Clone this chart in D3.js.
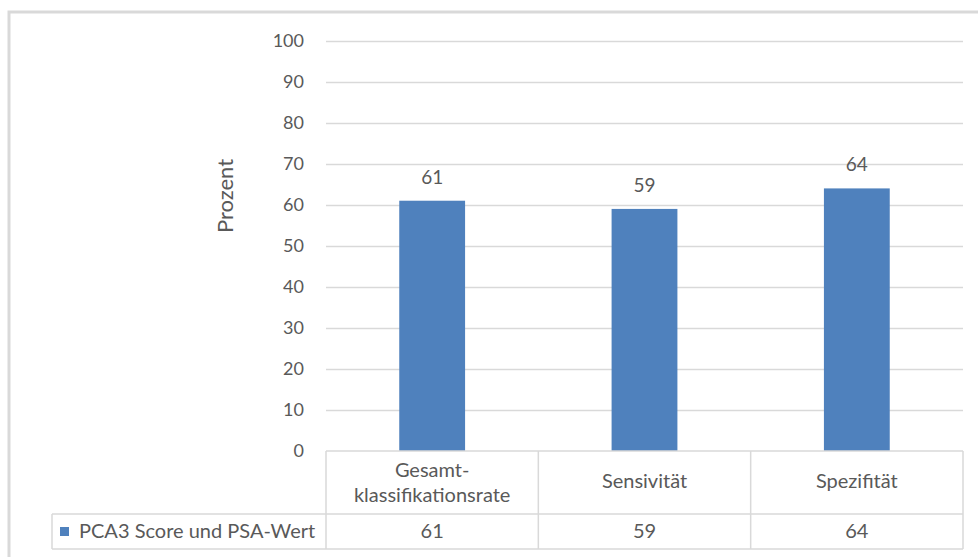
<!DOCTYPE html>
<html>
<head>
<meta charset="utf-8">
<script src="https://cdn.jsdelivr.net/npm/d3@7"></script>
<style>
  html, body { margin: 0; padding: 0; background: #fff; }
  svg { display: block; }
</style>
</head>
<body>
<svg id="chart" width="978" height="557"></svg>
<script>
// Kennwerte der Kombination aus PCA3 Score und PSA-Wert
const categories = [["Gesamt-", "klassifikationsrate"], ["Sensivität"], ["Spezifität"]];
const seriesName = "PCA3 Score und PSA-Wert";
const values = [61, 59, 64];
const yTicks = [0, 10, 20, 30, 40, 50, 60, 70, 80, 90, 100];
const yTitle = "Prozent";

(function draw() {
  const FONT = "Lato, 'Open Sans', sans-serif";
  const TEXT = "#595959";
  const LINE = "#d9d9d9";
  const BAR = "#4f81bd";

  const svg = d3.select("#chart");

  // Rahmen des Diagrammbereichs
  svg.append("rect")
    .attr("x", 9).attr("y", 12)
    .attr("width", 1000).attr("height", 600)
    .attr("fill", "#fff")
    .attr("stroke", LINE).attr("stroke-width", 3);

  const plotLeft = 326, plotRight = 963, plotTop = 40.7, base = 451;
  const rowMid = 514, rowBottom = 549, legendLeft = 52;

  const keys = categories.map((c, i) => i);
  const x = d3.scaleBand().domain(keys).range([plotLeft, plotRight])
    .paddingInner(0.69).paddingOuter(0.345);
  const y = d3.scaleLinear().domain([0, 100]).range([base, plotTop]);

  // Gitterlinien und Achsenbeschriftung
  const yAxis = d3.axisLeft(y).tickValues(yTicks).tickSize(0).tickPadding(22);
  const gy = svg.append("g").attr("transform", `translate(${plotLeft},0)`).call(yAxis);
  gy.select(".domain").remove();
  gy.selectAll("text").attr("fill", TEXT).style("font-family", FONT).style("font-size", "18px");

  svg.append("g").selectAll("line").data(yTicks.filter(t => t > 0)).join("line")
    .attr("x1", plotLeft).attr("x2", plotRight)
    .attr("y1", d => Math.round(y(d)) + 0.5).attr("y2", d => Math.round(y(d)) + 0.5)
    .attr("stroke", LINE).attr("stroke-width", 1.5);

  // Balken
  svg.append("g").selectAll("rect").data(values).join("rect")
    .attr("x", (d, i) => x(i))
    .attr("width", x.bandwidth())
    .attr("y", d => y(d))
    .attr("height", d => y(0) - y(d))
    .attr("fill", BAR);

  // Datenbeschriftungen
  svg.append("g").selectAll("text").data(values).join("text")
    .attr("x", (d, i) => x(i) + x.bandwidth() / 2)
    .attr("y", d => y(d) - 17)
    .attr("text-anchor", "middle")
    .attr("fill", TEXT)
    .style("font-family", FONT).style("font-size", "19px")
    .text(d => d);

  // Achsentitel
  svg.append("text")
    .attr("transform", `translate(233,196) rotate(-90)`)
    .attr("text-anchor", "middle")
    .attr("fill", TEXT)
    .style("font-family", FONT).style("font-size", "22px")
    .text(yTitle);

  // Datentabelle
  const grid = svg.append("g").attr("stroke", LINE).attr("stroke-width", 1.5).attr("fill", "none");
  const step = x.step();
  const colEdges = keys.map(i => plotLeft + i * step).concat([plotRight]);
  grid.append("line").attr("x1", plotLeft).attr("x2", plotRight).attr("y1", base).attr("y2", base);
  grid.append("line").attr("x1", legendLeft).attr("x2", plotRight).attr("y1", rowMid).attr("y2", rowMid);
  grid.append("line").attr("x1", legendLeft).attr("x2", plotRight).attr("y1", rowBottom).attr("y2", rowBottom);
  grid.append("line").attr("x1", legendLeft).attr("x2", legendLeft).attr("y1", rowMid).attr("y2", rowBottom);
  grid.selectAll("line.col").data(colEdges).join("line").attr("class", "col")
    .attr("x1", d => d).attr("x2", d => d)
    .attr("y1", base).attr("y2", rowBottom);

  const catText = svg.append("g").selectAll("text").data(categories).join("text")
    .attr("text-anchor", "middle")
    .attr("fill", TEXT)
    .style("font-family", FONT).style("font-size", "20px")
    .attr("x", (d, i) => x(i) + x.bandwidth() / 2)
    .attr("y", d => d.length > 1 ? 477 : 488);
  catText.selectAll("tspan").data(d => d).join("tspan")
    .attr("x", function() { return d3.select(this.parentNode).attr("x"); })
    .attr("dy", (d, j) => j === 0 ? 0 : 25)
    .text(d => d);

  svg.append("g").selectAll("text").data(values).join("text")
    .attr("x", (d, i) => x(i) + x.bandwidth() / 2)
    .attr("y", 538)
    .attr("text-anchor", "middle")
    .attr("fill", TEXT)
    .style("font-family", FONT).style("font-size", "20px")
    .text(d => d);

  // Legendenschlüssel in der Tabelle
  svg.append("rect").attr("x", 60).attr("y", 527).attr("width", 9).attr("height", 9).attr("fill", BAR);
  svg.append("text").attr("x", 79).attr("y", 538)
    .attr("fill", TEXT)
    .style("font-family", FONT).style("font-size", "20px")
    .text(seriesName);
})();
</script>
</body>
</html>
